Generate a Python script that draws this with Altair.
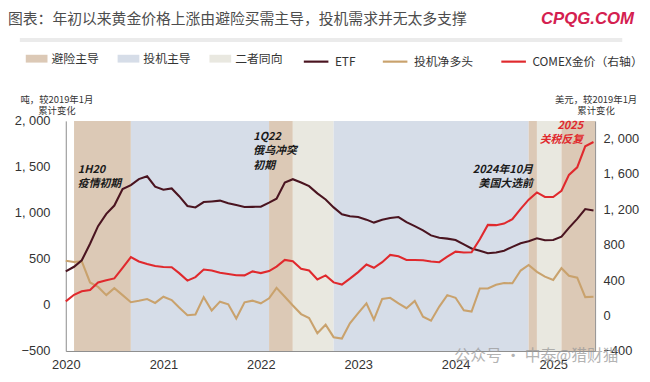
import altair as alt
import pandas as pd

# ---------------- data ----------------
month_start = "2020-01-01"
n_months = 66  # Jan 2020 .. Jun 2025, monthly

etf = [364, 415, 485, 665, 856, 990, 1080, 1260, 1302, 1368, 1398, 1285, 1252, 1266, 1182, 1075,
       1060, 1118, 1125, 1134, 1105, 1085, 1064, 1066, 1068, 1112, 1155, 1330, 1366, 1330, 1291, 1213,
       1146, 1060, 985, 963, 956, 927, 895, 925, 945, 955, 900, 856, 810, 756, 731, 721,
       706, 658, 614, 589, 562, 571, 590, 631, 671, 692, 724, 703, 706, 742, 838, 935, 1042, 1027]

net_long = [481, 466, 475, 245, 196, 107, 182, 107, 30, 45, 64, 22, 90, 53, -28, -112,
            -103, 85, -60, 36, 7, -148, 29, 47, 18, 72, 186, 90, -6, -99, -142, -308,
            -214, -350, -365, -200, -89, 18, -160, 65, 78, 18, -35, 43, -128, -171, -17, 107,
            78, -58, -72, 179, 179, 220, 238, 236, 374, 435, 360, 308, 272, 400, 318, 296, 85, 90]

comex = [160, 235, 275, 290, 375, 398, 420, 540, 662, 612, 584, 560, 550, 547, 480, 395,
         435, 521, 510, 484, 469, 456, 454, 499, 480, 503, 554, 629, 614, 528, 510, 409,
         454, 375, 350, 417, 491, 577, 540, 603, 685, 670, 629, 629, 625, 612, 603, 666,
         722, 712, 715, 863, 1025, 1022, 1040, 1090, 1206, 1310, 1392, 1340, 1340, 1411, 1590, 1675, 1913, 1961]

band_start = ["2020-02-01", "2020-09-01", "2022-02-01", "2022-05-01",
              "2022-10-01", "2024-10-01", "2024-11-01", "2025-02-01"]
band_end = ["2020-09-01", "2022-02-01", "2022-05-01", "2022-10-01",
            "2024-10-01", "2024-11-01", "2025-02-01", "2025-06-07"]
band_type = ["避险主导", "投机主导", "避险主导", "二者同向",
             "投机主导", "避险主导", "二者同向", "避险主导"]

band_names = ["避险主导", "投机主导", "二者同向"]
band_colors = ["#dcc9b6", "#d6dde8", "#e9e8e0"]
series_names = ["ETF", "投机净多头", "COMEX金价（右轴）"]
series_colors = ["#4a1420", "#c9a26d", "#e0292d"]

year_ticks = [2020, 2021, 2022, 2023, 2024, 2025]
left_ticks = [-500, 0, 500, 1000, 1500, 2000]
right_ticks = [-400, 0, 400, 800, 1200, 1600, 2000]

ann_black_left_text = ["1H20\n疫情初期", "1Q22\n俄乌冲突\n初期"]
ann_black_left_date = ["2020-02-15", "2021-12-04"]
ann_black_left_value = [1531, 1890]
ann_black_right_text = ["2024年10月\n美国大选前"]
ann_black_right_date = ["2024-10-17"]
ann_black_right_value = [1531]
ann_red_text = ["2025\n关税反复"]
ann_red_date = ["2025-04-23"]
ann_red_value = [2013]

title_text = "图表：年初以来黄金价格上涨由避险买需主导，投机需求并无太多支撑"
brand_text = "CPQG.COM"
watermark_text = "公众号 · 中泰@猎财猫"
left_unit = ["吨，较2019年1月", "累计变化"]
right_unit = ["美元，较2019年1月", "累计变化"]

# ---------------- tables ----------------
dates = pd.date_range(month_start, periods=n_months, freq="MS")
left_df = pd.concat([
    pd.DataFrame({"date": dates, "value": net_long, "series": "投机净多头"}),
    pd.DataFrame({"date": dates, "value": etf, "series": "ETF"}),
], ignore_index=True)
right_df = pd.DataFrame({"date": dates, "value": comex, "series": "COMEX金价（右轴）"})
bands_df = pd.DataFrame({"start": pd.to_datetime(band_start),
                         "end": pd.to_datetime(band_end),
                         "type": band_type})

def ann_df(texts, ds, vals):
    return pd.DataFrame({"date": pd.to_datetime(ds), "value": vals, "label": texts})

# ---------------- layout ----------------
W, H = 536, 233
PAD_L, PAD_T = 58.5, 112
OX, OY = 8 + PAD_L, 8 + PAD_T  # page position of plot origin
FONT = "Noto Sans CJK SC"
NUM_FONT = "Liberation Sans"
NUM_LABEL = "replace(format(datum.value, ','), ',', ', ')"

x_scale = alt.Scale(domain=[alt.DateTime(year=2020, month=1, date=1),
                            alt.DateTime(year=2025, month=6, date=7)])
x_axis = alt.Axis(values=[alt.DateTime(year=y, month=1, date=1) for y in year_ticks],
                  format="%Y", labelFont=NUM_FONT, labelFontSize=13, labelColor="#333333",
                  labelPadding=8, ticks=False, grid=False, domainColor="#8a8a8a",
                  labelFlush=False, labelOverlap=False)

def xenc(field):
    return alt.X(f"{field}:T", scale=x_scale, axis=x_axis, title=None)

left_scale = alt.Scale(domain=[-500, 2000], nice=False, zero=False)
left_axis = alt.Axis(orient="left", values=left_ticks, labelExpr=NUM_LABEL,
                     labelFont=NUM_FONT, labelFontSize=13, labelColor="#333333",
                     labelPadding=16, ticks=False, grid=False, domainColor="#8a8a8a",
                     title=left_unit, titleAngle=0, titleAlign="center",
                     titleBaseline="alphabetic", titleX=57 - OX, titleY=101 - OY,
                     titleFont=FONT, titleFontSize=9.5, titleFontWeight="normal",
                     titleColor="#333333", titleLineHeight=12)
right_scale = alt.Scale(domain=[-400, 2200], nice=False, zero=False)
right_axis = alt.Axis(orient="right", values=right_ticks, labelExpr=NUM_LABEL,
                      labelFont=NUM_FONT, labelFontSize=13, labelColor="#333333",
                      labelPadding=8, ticks=False, grid=False, domainColor="#8a8a8a",
                      title=right_unit, titleAngle=0, titleAlign="center",
                      titleBaseline="alphabetic", titleX=0.5, titleY=101 - OY,
                      titleFont=FONT, titleFontSize=9.5, titleFontWeight="normal",
                      titleColor="#333333", titleLineHeight=12)

fill_legend = alt.Legend(orient="none", legendX=26 - OX, legendY=46 - OY,
                         direction="horizontal", title=None,
                         symbolType="M-1,-0.36L1,-0.36L1,0.36L-1,0.36Z", symbolSize=484,
                         symbolStrokeWidth=0, symbolOpacity=1,
                         labelFont=FONT, labelFontSize=12, labelColor="#333333",
                         labelOffset=4, columnPadding=18, padding=0)
stroke_scale = alt.Scale(domain=series_names, range=series_colors)
stroke_legend = alt.Legend(orient="none", legendX=306 - OX, legendY=46 - OY,
                           direction="horizontal", title=None,
                           symbolType="stroke", symbolSize=620, symbolStrokeWidth=2.2,
                           labelFont=FONT, labelFontSize=12, labelColor="#333333",
                           labelOffset=5, columnPadding=23, padding=0)

# ---------------- layers ----------------
bands = alt.Chart(bands_df).mark_rect(opacity=1).encode(
    x=xenc("start"), x2="end:T",
    y=alt.value(0), y2=alt.value(H),
    fill=alt.Fill("type:N", scale=alt.Scale(domain=band_names, range=band_colors),
                  legend=fill_legend),
)

left_lines = alt.Chart(left_df).mark_line(strokeWidth=2.1).encode(
    x=xenc("date"),
    y=alt.Y("value:Q", scale=left_scale, axis=left_axis),
    stroke=alt.Stroke("series:N", scale=stroke_scale, legend=stroke_legend),
)

ann_style = dict(font=FONT, fontSize=11, fontStyle="italic", fontWeight="bold",
                 lineBreak="\n", lineHeight=14.7, baseline="top")
ann1 = alt.Chart(ann_df(ann_black_left_text, ann_black_left_date, ann_black_left_value)).mark_text(
    align="left", color="#1a1a1a", **ann_style).encode(
    x=xenc("date"), y=alt.Y("value:Q", scale=left_scale, axis=left_axis), text="label:N")
ann2 = alt.Chart(ann_df(ann_black_right_text, ann_black_right_date, ann_black_right_value)).mark_text(
    align="right", color="#1a1a1a", **ann_style).encode(
    x=xenc("date"), y=alt.Y("value:Q", scale=left_scale, axis=left_axis), text="label:N")
ann3 = alt.Chart(ann_df(ann_red_text, ann_red_date, ann_red_value)).mark_text(
    align="right", color="#e0292d", **ann_style).encode(
    x=xenc("date"), y=alt.Y("value:Q", scale=left_scale, axis=left_axis), text="label:N")

left_group = alt.layer(left_lines, ann1, ann2, ann3)

right_line = alt.Chart(right_df).mark_line(strokeWidth=2.1).encode(
    x=xenc("date"),
    y=alt.Y("value:Q", scale=right_scale, axis=right_axis),
    stroke=alt.Stroke("series:N", scale=stroke_scale, legend=stroke_legend),
)

# decorations (title, brand, separator, watermark)
title = alt.Chart(pd.DataFrame({"t": [title_text]})).mark_text(
    align="left", baseline="middle", font=FONT, fontSize=15, color="#4d4d4d").encode(
    x=alt.value(8 - OX), y=alt.value(16.5 - OY), text="t:N")
brand = alt.Chart(pd.DataFrame({"t": [brand_text]})).mark_text(
    align="right", baseline="middle", font=NUM_FONT, fontSize=17, fontWeight="bold",
    fontStyle="italic", color="#d4204f").encode(
    x=alt.value(642 - OX), y=alt.value(17 - OY), text="t:N")
sep = alt.Chart(pd.DataFrame({"t": [0]})).mark_rule(color="#ebebeb", strokeWidth=4).encode(
    x=alt.value(20 - OX), x2=alt.value(630 - OX), y=alt.value(38 - OY))
watermark = alt.Chart(pd.DataFrame({"t": [watermark_text]})).mark_text(
    align="left", baseline="middle", font=FONT, fontSize=16, color="#9a9a9a", opacity=0.75).encode(
    x=alt.value(460 - OX), y=alt.value(358 - OY), text="t:N")

chart = alt.layer(bands, left_group, right_line, sep, title, brand, watermark).resolve_scale(
    y="independent"
).properties(
    width=W, height=H,
    autosize=alt.AutoSizeParams(type="none"),
    padding={"left": PAD_L, "top": PAD_T, "right": 650 - 8 - PAD_L - W, "bottom": 22},
    background="white",
).configure_view(stroke=None)

chart.save("out.html", embed_options={"renderer": "svg", "actions": False})
